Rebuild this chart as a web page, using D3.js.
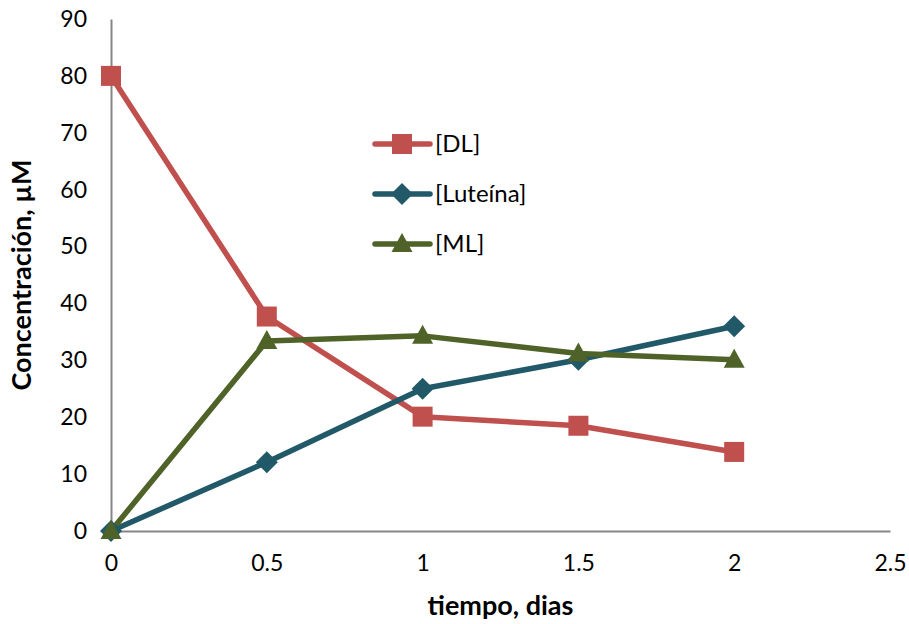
<!DOCTYPE html>
<html>
<head>
<meta charset="utf-8">
<script src="https://cdn.jsdelivr.net/npm/d3@7"></script>
<style>
  body { margin: 0; background: #fff; }
  text { font-family: Lato, "Open Sans", sans-serif; fill: #000; }
</style>
</head>
<body>
<svg id="chart"></svg>
<script>
var w = 909;
var h = 624;

var days = [0, 0.5, 1, 1.5, 2];
var dl = [80, 37.7, 20.1, 18.5, 13.9];
var luteina = [0, 12.1, 25, 30.1, 36];
var ml = [0, 33.4, 34.3, 31.2, 30.1];
var seriesNames = ['[DL]', '[Luteína]', '[ML]'];
var xTicks = [0, 0.5, 1, 1.5, 2, 2.5];
var yTicks = [0, 10, 20, 30, 40, 50, 60, 70, 80, 90];

var margin = {left: 111, right: 19, top: 19, bottom: 93};
var svg = d3.select('#chart').attr('width', w).attr('height', h);

var x = d3.scaleLinear().domain([0, 2.5]).range([margin.left, w - margin.right]);
var y = d3.scaleLinear().domain([0, 90]).range([h - margin.bottom, margin.top]);

// Axes
var xAxis = svg.append('g')
  .attr('transform', 'translate(0,' + y(0) + ')')
  .call(d3.axisBottom(x).tickValues(xTicks).tickSize(0).tickPadding(24)
    .tickFormat(function (d) { return d; }));
var yAxis = svg.append('g')
  .attr('transform', 'translate(' + x(0) + ',0)')
  .call(d3.axisLeft(y).tickValues(yTicks).tickSize(0).tickPadding(24));
[xAxis, yAxis].forEach(function (a) {
  a.select('.domain').attr('stroke', '#868686').attr('stroke-width', 2);
  a.selectAll('text').attr('font-size', '23px').attr('font-family', 'Lato, sans-serif').attr('fill', '#000');
});

// Axis titles
svg.append('text')
  .attr('x', (x(0) + x(2.5)) / 2)
  .attr('y', 615)
  .attr('text-anchor', 'middle')
  .attr('font-size', '27px')
  .attr('font-weight', 'bold')
  .text('tiempo, dias');
svg.append('text')
  .attr('transform', 'translate(31,' + (y(0) + y(90)) / 2 + ') rotate(-90)')
  .attr('text-anchor', 'middle')
  .attr('font-size', '27px')
  .attr('font-weight', 'bold')
  .text('Concentración, µM');

var series = [
  {name: seriesNames[0], values: dl, color: '#C0504D', shape: 'square'},
  {name: seriesNames[1], values: luteina, color: '#215968', shape: 'diamond'},
  {name: seriesNames[2], values: ml, color: '#4F6228', shape: 'triangle'}
];

function marker(g, shape, color) {
  if (shape === 'square') {
    g.append('rect').attr('x', -10).attr('y', -10).attr('width', 20).attr('height', 20).attr('fill', color);
  } else if (shape === 'diamond') {
    g.append('path').attr('d', 'M0,-11L11,0L0,11L-11,0Z').attr('fill', color);
  } else {
    g.append('path').attr('d', 'M0,-11L10.5,8L-10.5,8Z').attr('fill', color);
  }
}

var line = d3.line()
  .x(function (d, i) { return x(days[i]); })
  .y(function (d) { return y(d); });

series.forEach(function (s) {
  svg.append('path')
    .datum(s.values)
    .attr('d', line)
    .attr('fill', 'none')
    .attr('stroke', s.color)
    .attr('stroke-width', 5.5)
    .attr('stroke-linejoin', 'round');
});
series.forEach(function (s) {
  svg.selectAll(null)
    .data(s.values)
    .enter()
    .append('g')
    .attr('transform', function (d, i) { return 'translate(' + x(days[i]) + ',' + y(d) + ')'; })
    .each(function () { marker(d3.select(this), s.shape, s.color); });
});

// Legend
var legend = svg.append('g').attr('transform', 'translate(375,144)');
series.forEach(function (s, i) {
  var row = legend.append('g').attr('transform', 'translate(0,' + i * 50 + ')');
  row.append('line').attr('x1', 0).attr('x2', 55).attr('y1', 0).attr('y2', 0)
    .attr('stroke', s.color).attr('stroke-width', 5.5).attr('stroke-linecap', 'round');
  var m = row.append('g').attr('transform', 'translate(27,0)');
  marker(m, s.shape, s.color);
  row.append('text').attr('x', 60).attr('y', 8).attr('font-size', '24px').text(s.name);
});
</script>
</body>
</html>
